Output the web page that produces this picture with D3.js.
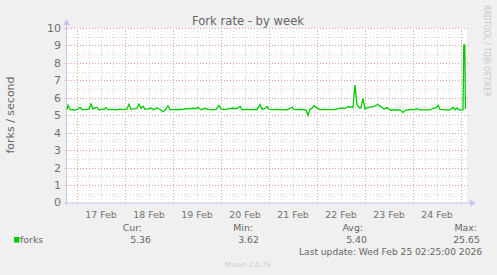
<!DOCTYPE html>
<html>
<head>
<meta charset="utf-8">
<script src="https://cdn.jsdelivr.net/npm/d3@7"></script>
<style>
  body { margin: 0; background: #f0f0f0; }
  svg { display: block; font-family: "DejaVu Sans", sans-serif; }
</style>
</head>
<body>
<svg id="chart" width="497" height="275"></svg>
<script>
// hours after Feb 16 19:00 and fork rate
var sampleHours = [0, 0.5, 1.5, 3.5, 5, 6.5, 7.5, 9.5, 11, 12, 13, 14, 15, 16, 17.5, 18.5, 19.5, 20.5, 22.5, 24.5,
  26.5, 28.5, 30, 31, 32, 33.5, 35, 36, 37, 38, 39, 40.5, 42, 43.5, 45, 46.5, 48, 49, 50.5, 51.5,
  53.5, 55.5, 57.5, 59.5, 61.5, 63, 64.5, 65.5, 67, 69, 70.5, 72.5, 74.5, 76, 77, 79, 81, 83, 85, 86.5,
  87.5, 89.5, 91.5, 93.5, 95, 96.5, 97.5, 99, 100, 101, 103.5, 105.5, 108, 110.5, 112.5, 113.5, 116, 118.5, 119.5, 120.5,
  121.5, 122.5, 123.5, 125, 126.5, 129, 131.5, 134, 135.5, 137.5, 139, 140.5, 141.5, 142.5, 143, 144, 145, 146.5, 147, 148,
  149, 150, 151.5, 153, 154.5, 155.5, 156.5, 157.5, 158.5, 160, 161.5, 164, 166.5, 168, 169.5, 171.5, 173.5, 175, 176.5, 179,
  181.5, 183, 184.5, 185.5, 186.5, 189, 191.5, 193, 194, 195, 196, 198, 198.4, 198.9, 199.2];
var forkRate = [5.32, 5.57, 5.33, 5.30, 5.32, 5.45, 5.33, 5.32, 5.36, 5.64, 5.36, 5.42, 5.46, 5.30, 5.36, 5.32, 5.44, 5.32, 5.34, 5.31,
  5.35, 5.32, 5.36, 5.63, 5.34, 5.36, 5.40, 5.63, 5.40, 5.52, 5.34, 5.36, 5.40, 5.32, 5.42, 5.33, 5.20, 5.30, 5.55, 5.33,
  5.32, 5.34, 5.33, 5.38, 5.36, 5.40, 5.38, 5.44, 5.32, 5.40, 5.34, 5.31, 5.34, 5.56, 5.36, 5.32, 5.38, 5.40, 5.38, 5.50,
  5.32, 5.33, 5.32, 5.34, 5.33, 5.62, 5.34, 5.40, 5.50, 5.34, 5.32, 5.33, 5.31, 5.33, 5.47, 5.32, 5.33, 5.32, 5.30, 5.00,
  5.34, 5.40, 5.55, 5.42, 5.32, 5.33, 5.32, 5.33, 5.38, 5.42, 5.38, 5.50, 5.46, 5.48, 5.45, 6.73, 5.60, 5.40, 5.45, 5.97,
  5.36, 5.42, 5.46, 5.50, 5.55, 5.63, 5.52, 5.46, 5.36, 5.44, 5.30, 5.30, 5.31, 5.16, 5.30, 5.33, 5.32, 5.38, 5.31, 5.31,
  5.31, 5.40, 5.42, 5.57, 5.34, 5.31, 5.31, 5.45, 5.31, 5.42, 5.31, 5.31, 9.03, 9.03, 5.36];

var yTicks = [0, 1, 2, 3, 4, 5, 6, 7, 8, 9, 10];
var dayLabels = ["17 Feb", "18 Feb", "19 Feb", "20 Feb", "21 Feb", "22 Feb", "23 Feb", "24 Feb"];
var legendHeads = ["Cur:", "Min:", "Avg:", "Max:"];
var legendValues = ["5.36", "3.62", "5.40", "25.65"];

var svg = d3.select("#chart");
var start = new Date(2026, 1, 16, 19, 0),
    end = new Date(2026, 1, 25, 3, 0);
var pLeft = 67, pRight = 467, pTop = 28, pBottom = 202.5;
var textCol = "#666";

var x = d3.scaleTime().domain([start, end]).range([pLeft, pRight]);
var y = d3.scaleLinear().domain([0, 10]).range([pBottom, pTop]);

var data = sampleHours.map(function(h, i) {
  return {date: d3.timeMinute.offset(start, h * 60), value: forkRate[i]};
});

svg.append("rect").attr("x", pLeft).attr("y", pTop)
  .attr("width", pRight - pLeft).attr("height", pBottom - pTop).attr("fill", "#fff");

var g = svg.append("g");

// minor grid
var minorX = d3.timeHour.every(6).range(start, end);
g.selectAll(".vminor").data(minorX).enter().append("line")
  .attr("x1", function(d) { return Math.round(x(d)) + 0.5; })
  .attr("x2", function(d) { return Math.round(x(d)) + 0.5; })
  .attr("y1", pTop).attr("y2", pBottom)
  .attr("stroke", "#d4d4d4").attr("stroke-dasharray", "1,2");
var minorY = d3.range(0.5, 10.5, 1);
g.selectAll(".hminor").data(minorY).enter().append("line")
  .attr("x1", pLeft).attr("x2", pRight)
  .attr("y1", function(d) { return Math.round(y(d)) + 0.5; })
  .attr("y2", function(d) { return Math.round(y(d)) + 0.5; })
  .attr("stroke", "#d4d4d4").attr("stroke-dasharray", "1,2");

// major grid
var days = d3.timeDay.range(d3.timeDay.ceil(start), end);
g.selectAll(".vmajor").data(days).enter().append("line")
  .attr("x1", function(d) { return Math.round(x(d)) + 0.5; })
  .attr("x2", function(d) { return Math.round(x(d)) + 0.5; })
  .attr("y1", pTop).attr("y2", pBottom + 3)
  .attr("stroke", "#e8a0a0").attr("stroke-dasharray", "1,2");
g.selectAll(".hmajor").data(yTicks.slice(1)).enter().append("line")
  .attr("x1", pLeft - 2).attr("x2", pRight + 2)
  .attr("y1", function(d) { return Math.round(y(d)) + 0.5; })
  .attr("y2", function(d) { return Math.round(y(d)) + 0.5; })
  .attr("stroke", "#e8a0a0").attr("stroke-dasharray", "1,2");

// axes lines with arrows
var axisCol = "#c4c8f0";
svg.append("line").attr("x1", pLeft - 0.5).attr("x2", pLeft - 0.5)
  .attr("y1", pBottom + 3).attr("y2", pTop - 5).attr("stroke", axisCol);
svg.append("path").attr("d", "M" + (pLeft - 4) + "," + (pTop - 3) + "L" + (pLeft - 0.5) + "," + (pTop - 9) + "L" + (pLeft + 3) + "," + (pTop - 3) + "Z")
  .attr("fill", axisCol);
svg.append("line").attr("x1", pLeft - 3).attr("x2", pRight + 4)
  .attr("y1", pBottom + 0.5).attr("y2", pBottom + 0.5).attr("stroke", axisCol);
svg.append("path").attr("d", "M" + (pRight + 3) + "," + (pBottom - 3) + "L" + (pRight + 9) + "," + (pBottom + 0.5) + "L" + (pRight + 3) + "," + (pBottom + 4) + "Z")
  .attr("fill", axisCol);

// y axis labels
svg.selectAll(".ylab").data(yTicks).enter().append("text")
  .attr("x", pLeft - 6).attr("y", function(d) { return y(d); })
  .attr("dy", "0.36em").attr("text-anchor", "end")
  .attr("font-size", 11).attr("fill", "#707070")
  .text(function(d) { return d; });

// x axis labels at noon
svg.selectAll(".xlab").data(dayLabels).enter().append("text")
  .attr("x", function(d, i) { return x(d3.timeHour.offset(days[i], 12)); })
  .attr("y", pBottom + 15).attr("text-anchor", "middle")
  .attr("font-size", 9.4).attr("fill", "#707070")
  .text(function(d) { return d; });

// series
var line = d3.line()
  .x(function(d) { return x(d.date); })
  .y(function(d) { return y(d.value); });
svg.append("path").datum(data).attr("d", line)
  .attr("fill", "none").attr("stroke", "#00cc00").attr("stroke-width", 1.3);

// title
svg.append("text").attr("x", 248).attr("y", 24.5).attr("text-anchor", "middle")
  .attr("font-size", 11.6).attr("fill", textCol).text("Fork rate - by week");

// y label
svg.append("text").attr("transform", "translate(14,115) rotate(-90)")
  .attr("text-anchor", "middle").attr("font-size", 11).attr("fill", textCol)
  .text("forks / second");

// watermark
svg.append("text").attr("transform", "translate(484,5) rotate(90)")
  .attr("font-size", 8.5).attr("fill", "#c8c8c8")
  .attr("textLength", 92).attr("lengthAdjust", "spacingAndGlyphs")
  .text("RRDTOOL / TOBI OETIKER");

// legend
svg.append("rect").attr("x", 14).attr("y", 237).attr("width", 5.5).attr("height", 5.5).attr("fill", "#00cc00");
svg.append("text").attr("x", 20).attr("y", 243).attr("font-size", 9.4).attr("fill", textCol).text("forks");
var headRight = [142, 253, 363, 477];
var valueRight = [151, 259, 367, 480];
svg.selectAll(".lhead").data(legendHeads).enter().append("text")
  .attr("x", function(d, i) { return headRight[i]; }).attr("y", 230.5)
  .attr("text-anchor", "end").attr("font-size", 9.4).attr("fill", textCol)
  .text(function(d) { return d; });
svg.selectAll(".lval").data(legendValues).enter().append("text")
  .attr("x", function(d, i) { return valueRight[i]; }).attr("y", 243)
  .attr("text-anchor", "end").attr("font-size", 9.4).attr("fill", textCol)
  .text(function(d) { return d; });
svg.append("text").attr("x", 482).attr("y", 254.5).attr("text-anchor", "end")
  .attr("font-size", 9.4).attr("fill", textCol)
  .attr("textLength", 183).attr("lengthAdjust", "spacingAndGlyphs")
  .text("Last update: Wed Feb 25 02:25:00 2026");
svg.append("text").attr("x", 248).attr("y", 267).attr("text-anchor", "middle")
  .attr("font-size", 7).attr("fill", "#cccccc").text("Munin 2.0.76");
</script>
</body>
</html>
